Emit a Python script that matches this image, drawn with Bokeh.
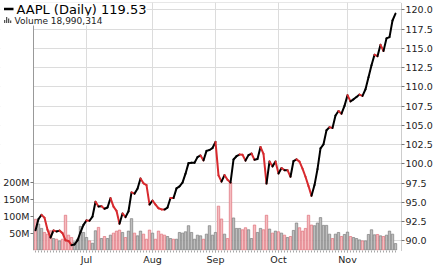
import pandas as pd
from bokeh.plotting import figure
from bokeh.models import (Range1d, LinearAxis, FixedTicker, SingleIntervalTicker, Label,
                          BoxAnnotation, ColumnDataSource, NumeralTickFormatter)
from bokeh.embed import file_html
from bokeh.resources import INLINE

# ---------------- data ----------------
ticker_name = "AAPL (Daily)"
holidays = ["2014-07-04", "2014-09-01"]
start_date, end_date = "2014-06-06", "2014-11-25"

close = [
    # Jun
    91.37, 92.84, 93.38, 93.00, 91.44, 90.44, 91.35, 91.23, 91.33, 91.01, 90.07, 89.99,
    89.45, 89.53, 90.06, 91.13, 92.08,
    # Jul
    92.66, 92.62, 93.16, 95.09, 94.47, 94.51, 94.17, 94.34, 95.56, 94.44, 93.91, 92.23,
    93.56, 93.08, 93.85, 96.30, 96.14, 96.77, 98.11, 97.48, 97.25, 94.72,
    # Aug
    95.25, 94.71, 94.24, 94.09, 94.07, 94.33, 95.58, 95.56, 96.82, 97.08, 97.56, 98.73,
    100.10, 100.14, 100.15, 100.88, 101.10, 100.46, 101.69, 101.81, 102.06,
    # Sep
    102.86, 98.51, 97.70, 98.54, 97.94, 97.57, 100.57, 101.00, 101.22, 101.19, 100.43,
    101.14, 101.35, 100.53, 100.63, 102.20, 101.31, 97.45, 100.32, 99.68, 100.32,
    # Oct
    98.75, 99.47, 99.19, 99.19, 98.33, 100.37, 100.59, 100.30, 99.38, 98.33, 97.12, 95.85,
    97.25, 99.33, 102.03, 102.55, 104.38, 104.77, 104.66, 106.28, 106.88, 106.52, 107.54,
    # Nov
    108.93, 108.13, 108.39, 108.70, 109.01, 108.83, 109.70, 111.25, 112.82, 114.18, 113.99,
    115.47, 114.67, 116.31, 116.47, 118.63, 119.53,
]
prev_close_before_start = 91.63

volume_m = [
    # Jun
    91, 77, 64, 52, 47, 57, 34, 32, 27, 32, 103, 44, 37, 24, 32, 70, 52,
    # Jul
    37, 27, 20, 57, 67, 34, 40, 34, 44, 50, 56, 59, 52, 37, 56, 93, 50, 42, 56, 47, 32, 59,
    # Aug
    50, 32, 56, 47, 44, 40, 34, 32, 32, 52, 50, 54, 72, 52, 32, 44, 42, 32, 47, 72, 44,
    # Sep
    52, 130, 92, 47, 34, 200, 95, 64, 64, 60, 66, 60, 34, 74, 52, 64, 60, 103, 62, 50, 56,
    # Oct
    54, 50, 44, 37, 40, 58, 80, 66, 56, 64, 103, 74, 72, 80, 96, 73, 73, 47, 34, 47, 52, 40, 46,
    # Nov
    53, 40, 37, 34, 30, 27, 27, 46, 60, 45, 46, 42, 40, 44, 56, 47, 18.990314,
]

vol_ticks = [50, 100, 150, 200]
vol_tick_labels = ["50M", "100M", "150M", "200M"]

# ---------------- derived ----------------
dates = pd.bdate_range(start_date, end_date)
dates = dates[~dates.isin(pd.to_datetime(holidays))]
n = len(close)
idx = list(range(n))

month_idx, month_lab = [], []
for i, d in enumerate(dates):
    if i > 0 and d.month != dates[i - 1].month:
        month_idx.append(i)
        month_lab.append(d.strftime("%b"))

RED = "#d82a2e"
prev = [prev_close_before_start] + close[:-1]
down = [c < p_ for c, p_ in zip(close, prev)]

bar_src = ColumnDataSource(dict(
    x=idx, v=volume_m,
    fill=["#f4bcbf" if d else "#bebebe" for d in down],
    line=["#e0707a" if d else "#7c7c7c" for d in down],
))
seg_src = ColumnDataSource(dict(
    x0=idx[:-1], x1=idx[1:], y0=close[:-1], y1=close[1:],
    c=[RED if d else "#000000" for d in down[1:]],
))

# ---------------- figure ----------------
FONT = "DejaVu Sans"
X_LEFT, X_PLOT_LEFT, X_RIGHT = -11.67, -0.67, 122.0     # frame edge, plot-area edge, right edge
P_LOW, P_HIGH = 88.75, 120.97

p = figure(width=439, height=267, output_backend="svg", toolbar_location=None,
           x_range=Range1d(X_LEFT, X_RIGHT), y_range=Range1d(P_LOW, P_HIGH),
           y_axis_location="right", x_axis_location="below",
           min_border_left=0, min_border_right=38, min_border_top=2, min_border_bottom=15)
p.extra_y_ranges = {"vol": Range1d(-1.5, 734)}
p.background_fill_color = "white"
p.border_fill_color = "white"
p.outline_line_color = None

xa = p.xaxis[0]
ya = p.yaxis[0]

p.xgrid.grid_line_color = "#dcdcdc"
p.ygrid.grid_line_color = "#dcdcdc"

# white area left of the plot area (volume-axis label zone), over the grid
p.add_layout(BoxAnnotation(right=X_PLOT_LEFT, fill_color="white", fill_alpha=1,
                           line_color=None, level="underlay"))

p.vbar(x="x", top="v", bottom=0, width=0.8, y_range_name="vol", source=bar_src,
       fill_color="fill", line_color="line", line_width=0.7)
p.segment(x0="x0", y0="y0", x1="x1", y1="y1", line_color="c", line_width=2,
          line_cap="round", source=seg_src)

# right price axis
ya.ticker = SingleIntervalTicker(interval=2.5, num_minor_ticks=0)
ya.formatter = NumeralTickFormatter(format="0.0")
ya.axis_line_color = "#9a9a9a"
ya.axis_line_dash = "1 1"
ya.major_tick_out = 3
ya.major_tick_in = 0
ya.major_tick_line_color = "#777777"
ya.minor_tick_line_color = None
ya.major_label_standoff = 1
ya.major_label_text_font = FONT
ya.major_label_text_font_size = "9.5px"
ya.major_label_text_color = "#222222"

# left volume axis, drawn at the plot-area edge
va = LinearAxis(y_range_name="vol", ticker=FixedTicker(ticks=vol_ticks),
                fixed_location=X_PLOT_LEFT,
                major_label_overrides={t: l for t, l in zip(vol_ticks, vol_tick_labels)})
va.axis_line_color = "#999999"
va.major_tick_out = 3
va.major_tick_in = 0
va.major_tick_line_color = "#777777"
va.minor_tick_line_color = None
va.major_label_standoff = 1
va.major_label_text_font = FONT
va.major_label_text_font_size = "9.5px"
va.major_label_text_color = "#222222"
p.add_layout(va, "left")

# bottom date axis
xa.ticker = FixedTicker(ticks=month_idx, minor_ticks=idx)
xa.major_label_overrides = {i: l for i, l in zip(month_idx, month_lab)}
xa.axis_line_color = None
xa.major_tick_out = 2
xa.major_tick_in = 0
xa.minor_tick_out = 2
xa.minor_tick_in = 0
xa.major_tick_line_color = "#a8a8a8"
xa.minor_tick_line_color = "#a8a8a8"
xa.major_label_standoff = 1
xa.major_label_text_font = FONT
xa.major_label_text_font_size = "9.5px"
xa.major_label_text_color = "#222222"

# top border of the plot area
top_ax = LinearAxis(fixed_location=P_HIGH, bounds=(X_PLOT_LEFT, X_RIGHT),
                    ticker=FixedTicker(ticks=[]), axis_line_color="#d0d0d0",
                    major_tick_line_color=None, minor_tick_line_color=None,
                    major_label_text_font_size="0px")
p.add_layout(top_ax, "above")
# dotted line at the very bottom
bot_ax = LinearAxis(fixed_location=P_LOW - 14.5 / 7.76, bounds=(X_PLOT_LEFT, n - 0.5),
                    ticker=FixedTicker(ticks=[]), axis_line_color="#b0b0b0",
                    axis_line_dash="1 2",
                    major_tick_line_color=None, minor_tick_line_color=None,
                    major_label_text_font_size="0px")
p.add_layout(bot_ax, "below")

# legend (screen units relative to the frame: x from left, y from bottom)
p.add_layout(Label(x=16, y=241, x_units="screen", y_units="screen",
                   text=f"{ticker_name} {close[-1]:.2f}", text_font=FONT,
                   text_font_size="13px", text_baseline="middle", text_color="black",
                   background_fill_color="white", background_fill_alpha=1))
p.add_layout(Label(x=14, y=230, x_units="screen", y_units="screen",
                   text=f"Volume {int(round(volume_m[-1] * 1e6)):,}", text_font=FONT,
                   text_font_size="9px", text_baseline="middle", text_color="#222222",
                   background_fill_color="white", background_fill_alpha=1))
p.add_layout(BoxAnnotation(left=3.5, right=13, bottom=240.3, top=242.7,
                           left_units="screen", right_units="screen",
                           bottom_units="screen", top_units="screen",
                           fill_color="black", fill_alpha=1, line_color=None))
for l, r, t in [(3.5, 4.8, 230.5), (5.5, 6.8, 233.5), (7.5, 8.8, 232.0), (9.5, 10.8, 230.0)]:
    p.add_layout(BoxAnnotation(left=l, right=r, bottom=227.5, top=t,
                               left_units="screen", right_units="screen",
                               bottom_units="screen", top_units="screen",
                               fill_color="#555555", fill_alpha=1, line_color=None))

open("out.html", "w").write(file_html(p, INLINE))
